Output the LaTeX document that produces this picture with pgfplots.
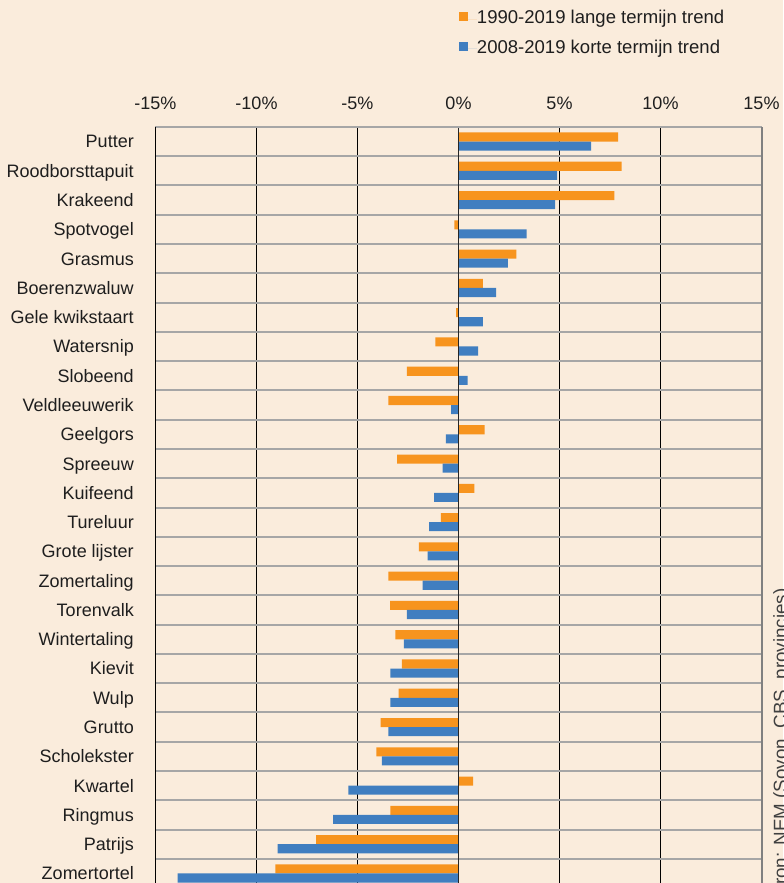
\documentclass[border=0pt]{standalone}
\usepackage{fontspec}
\setmainfont{Liberation Sans}
\usepackage{pgfplots}
\usepackage{pgfplotstable}
\pgfplotsset{compat=1.18}
\definecolor{bg}{RGB}{250,236,220}
\definecolor{oranje}{RGB}{247,148,30}
\definecolor{blauw}{RGB}{64,126,192}
\definecolor{sep}{RGB}{166,166,166}
\definecolor{rborder}{RGB}{128,128,128}
\definecolor{txt}{RGB}{30,30,30}

\pgfplotstableread{
y lang kort
25 7.90 6.56
24 8.07 4.88
23 7.72 4.78
22 -0.20 3.37
21 2.87 2.45
20 1.21 1.86
19 -0.12 1.21
18 -1.14 0.97
17 -2.55 0.45
16 -3.47 -0.37
15 1.29 -0.62
14 -3.04 -0.79
13 0.79 -1.21
12 -0.87 -1.46
11 -1.96 -1.53
10 -3.47 -1.78
9 -3.39 -2.55
8 -3.12 -2.70
7 -2.80 -3.37
6 -2.97 -3.37
5 -3.86 -3.47
4 -4.06 -3.79
3 0.72 -5.45
2 -3.37 -6.21
1 -7.05 -8.96
0 -9.06 -13.90
}\data

\begin{document}
\begin{tikzpicture}
\fill[bg] (0,0) rectangle (587.25pt,662.25pt);
\path[use as bounding box] (0,0) rectangle (587.25pt,662.25pt);
\clip (0,0) rectangle (587.25pt,662.25pt);
\begin{axis}[
  at={(116.625pt,-3.83pt)}, anchor=south west,
  scale only axis, width=454.5pt, height=570.9pt,
  xmin=-15, xmax=15, ymin=-0.5, ymax=25.5,
  clip=false,
  xbar, bar width=0.31,
  axis line style={draw=none},
  xtick={-15,-10,-5,0,5,10,15},
  xticklabels={-15\%,-10\%,-5\%,0\%,5\%,10\%,15\%},
  xticklabel pos=right,
  xmajorgrids, major grid style={black, line width=0.6pt},
  ytick={0,...,25},
  yticklabels={Zomertortel,Patrijs,Ringmus,Kwartel,Scholekster,Grutto,Wulp,Kievit,Wintertaling,Torenvalk,Zomertaling,Grote lijster,Tureluur,Kuifeend,Spreeuw,Geelgors,Veldleeuwerik,Slobeend,Watersnip,Gele kwikstaart,Boerenzwaluw,Grasmus,Spotvogel,Krakeend,Roodborsttapuit,Putter},
  minor ytick={0.5,1.5,...,24.5},
  yminorgrids, minor grid style={sep, line width=1.5pt},
  major tick length=0pt, minor tick length=0pt,
  /pgf/number format/assume math mode=true,
  xticklabel style={anchor=base, yshift=13pt, inner sep=0pt, font=\fontsize{13.5}{16}\selectfont, text=txt},
  yticklabel style={anchor=base east, xshift=-16.1pt, yshift=-4.83pt, inner sep=0pt, font=\fontsize{13.5}{16}\selectfont, text=txt},
  legend style={at={(axis description cs:0.5008,1.1524)}, anchor=north west, draw=none, fill=none,
    inner sep=0pt, outer sep=0pt, row sep=9.3pt,
    font=\fontsize{13.9}{16}\selectfont, text=txt,
    nodes={inner sep=0pt, text height=9.8pt, text depth=2.8pt}},
  legend cell align=left,
  legend image code/.code={\path (0pt,0pt) -- (13.5pt,0pt);\fill[#1] (0pt,-1.53pt) rectangle (6.75pt,5.22pt);},
]
\addplot[fill=oranje, draw=none, bar shift=0.155] table[x=lang, y=y] {\data};
\addlegendentry{1990-2019 lange termijn trend}
\addplot[fill=blauw, draw=none, bar shift=-0.155] table[x=kort, y=y] {\data};
\addlegendentry{2008-2019 korte termijn trend}
\draw[black!85, line width=1.2pt] (axis cs:0,-0.5) -- (axis cs:0,25.5);
\draw[sep, line width=1.5pt] (rel axis cs:0,1) -- (rel axis cs:1,1);
\draw[black, line width=1.1pt] (rel axis cs:0,0) -- (rel axis cs:0,1);
\draw[rborder, line width=1.5pt] (rel axis cs:1,0) -- (rel axis cs:1,1);
\node[rotate=90, anchor=base east, inner sep=0pt, font=\fontsize{14.1}{16}\selectfont, text=txt!85!white] at (axis description cs:1.0420,0.394) {Bron: NEM (Sovon, CBS, provincies)};
\end{axis}
\end{tikzpicture}
\end{document}
